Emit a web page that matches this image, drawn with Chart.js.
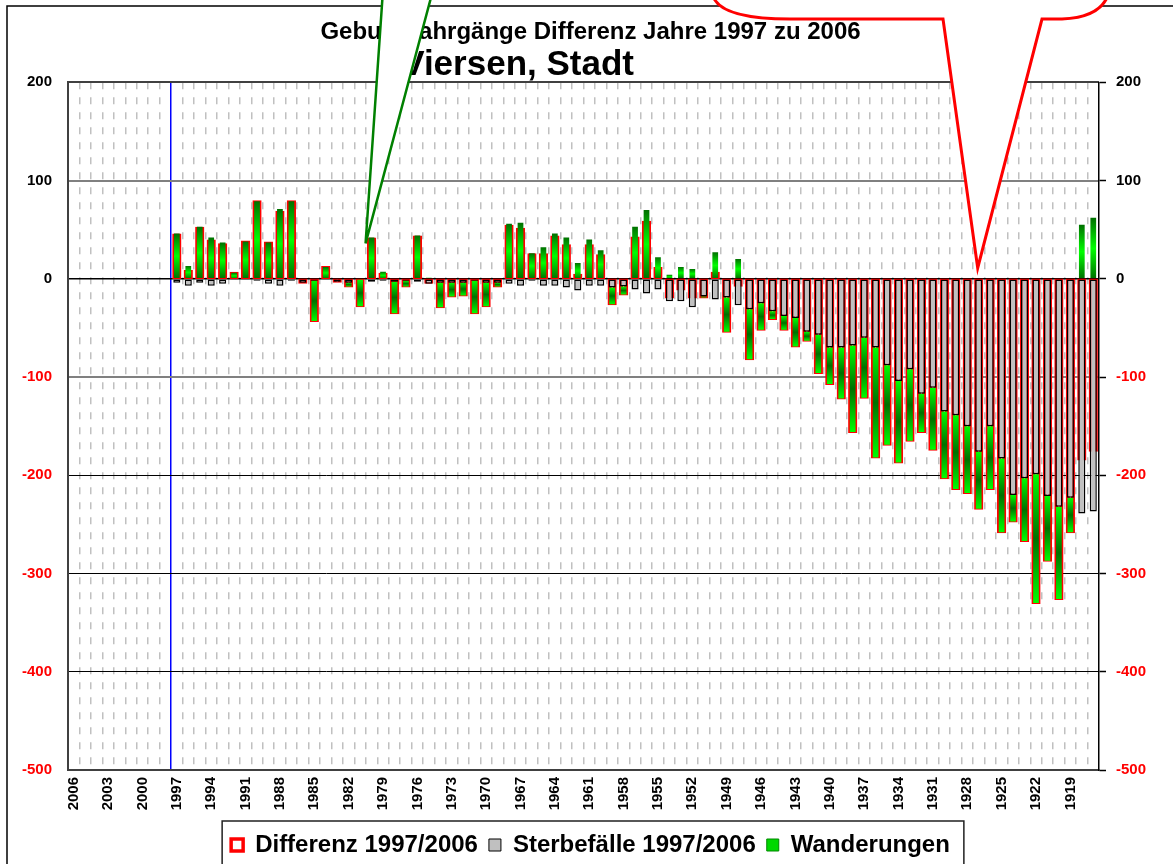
<!DOCTYPE html>
<html>
<head>
<meta charset="utf-8">
<title>Geburtsjahrgänge Differenz Jahre 1997 zu 2006 - Viersen, Stadt</title>
<script src="https://cdn.jsdelivr.net/npm/chart.js@4.4.1/dist/chart.umd.min.js"></script>
<style>
  html, body { margin: 0; padding: 0; background: #ffffff; }
  #wrap { width: 1173px; height: 864px; }
</style>
</head>
<body>
<div id="wrap"><canvas id="chart" width="1173" height="864"></canvas></div>
<script>
//===========================================================================================
// ~~ DATA ~~

var titleLines = ['Geburtsjahrgänge Differenz Jahre 1997 zu 2006', 'Viersen, Stadt'];
var seriesLabels = ['Differenz 1997/2006', 'Sterbefälle 1997/2006', 'Wanderungen'];

var years = ['2006','2005','2004','2003','2002','2001','2000','1999','1998','1997',
  '1996','1995','1994','1993','1992','1991','1990','1989','1988','1987',
  '1986','1985','1984','1983','1982','1981','1980','1979','1978','1977',
  '1976','1975','1974','1973','1972','1971','1970','1969','1968','1967',
  '1966','1965','1964','1963','1962','1961','1960','1959','1958','1957',
  '1956','1955','1954','1953','1952','1951','1950','1949','1948','1947',
  '1946','1945','1944','1943','1942','1941','1940','1939','1938','1937',
  '1936','1935','1934','1933','1932','1931','1930','1929','1928','1927',
  '1926','1925','1924','1923','1922','1921','1920','1919','1918','1917'];

var differenz = [null,null,null,null,null,null,null,null,null,45,
  8,52,39,35,6,38,79,37,68,79,
  -4,-43,12,-3,-8,-28,41,5,-35,-8,
  43,-4,-29,-18,-17,-35,-28,-8,54,51,
  25,25,43,34,4,34,24,-26,-16,42,
  58,11,-19,-11,-19,-19,6,-54,-7,-82,
  -52,-41,-52,-69,-63,-96,-107,-122,-156,-121,
  -182,-169,-187,-165,-156,-174,-203,-214,-218,-234,
  -214,-258,-247,-267,-330,-287,-326,-258,-184,-175];

var sterbefaelle = [null,null,null,null,null,null,null,null,null,-4,
  -7,-4,-7,-5,-1,-1,-2,-5,-7,-2,
  -4,-2,-1,-3,-4,-1,-3,-2,-3,-2,
  -3,-5,-4,-4,-4,-2,-4,-4,-5,-7,
  -2,-7,-7,-9,-12,-7,-7,-9,-8,-11,
  -15,-11,-23,-23,-29,-18,-21,-19,-27,-31,
  -25,-33,-38,-40,-54,-57,-70,-70,-68,-60,
  -70,-88,-104,-92,-117,-111,-135,-139,-150,-176,
  -150,-183,-220,-203,-199,-221,-232,-223,-239,-237];

var wanderungen = [null,null,null,null,null,null,null,null,null,46,
  13,53,42,37,6,38,79,37,71,79,
  0,-41,12,0,-4,-27,42,7,-32,-6,
  44,1,-25,-14,-13,-33,-24,-4,56,57,
  26,32,46,42,16,40,29,-17,-8,53,
  70,22,4,12,10,-1,27,-35,20,-51,
  -27,-8,-14,-29,-9,-39,-37,-52,-88,-61,
  -112,-81,-83,-73,-39,-63,-68,-75,-68,-58,
  -64,-75,-27,-64,-131,-66,-94,-35,55,62];

var yTicks = [200, 100, 0, -100, -200, -300, -400, -500];


//===========================================================================================
// ~~ STYLE HELPERS ~~

var FONT = "'Liberation Sans', Arial, sans-serif";

// green bars : dark/light/dark for gains, light/dark/light for losses (like the excel fill)
function wanderFill(ctx) {
  var chart = ctx.chart;
  var i = ctx.dataIndex;
  var v = (i === undefined) ? null : wanderungen[i];
  if (ctx.type !== 'data' || v === null || v === undefined || !chart.chartArea) {
    return '#00d000';
  }
  var y = chart.scales.y;
  var base = v < 0 ? (sterbefaelle[i] || 0) : 0;
  var y0 = y.getPixelForValue(base);
  var y1 = y.getPixelForValue(base + v);
  if (Math.abs(y1 - y0) < 1) return '#00d000';
  var g = chart.ctx.createLinearGradient(0, y0, 0, y1);
  var dark = '#007000', light = '#00ff00';
  if (v >= 0) {
    g.addColorStop(0, dark); g.addColorStop(0.5, light); g.addColorStop(1, dark);
  } else {
    g.addColorStop(0, light); g.addColorStop(0.5, dark); g.addColorStop(1, light);
  }
  return g;
}

function yGridColor(ctx) {
  var v = ctx.tick ? ctx.tick.value : null;
  if (v === 200 || v === -500) return '#404040';
  if (v === 100 || v === -100) return '#808080';
  return '#000000';
}
function yGridWidth(ctx) {
  var v = ctx.tick ? ctx.tick.value : null;
  if (v === 200 || v === -500 || v === 100 || v === -100) return 2;
  if (v === 0) return 1.5;
  return 1;
}
function xGridColor(ctx) {
  if (ctx.index === undefined || ctx.index === 0 || ctx.index >= years.length) return 'rgba(0,0,0,0)';
  if (years[ctx.index] === '1997') return '#0000ff';
  return '#c0c0c0';
}
function xGridWidth(ctx) {
  return 1.5;
}
function xGridDash(ctx) {
  if (ctx.index === undefined || years[ctx.index] === '1997') return [];
  return [7, 8];
}
function tickColor(ctx) {
  return (ctx.tick && ctx.tick.value < 0) ? '#ff0000' : '#000000';
}
function useTickList(scale) {
  scale.ticks = yTicks.slice().sort(function(a, b) { return a - b; }).map(function(v) { return { value: v }; });
}

// legend markers like in the excel legend
var legendLook = [
  { fill: '#ffffff', stroke: '#ff0000', width: 3.5 },
  { fill: '#c0c0c0', stroke: '#000000', width: 1 },
  { fill: '#00d800', stroke: '#008800', width: 1 }
];


//===========================================================================================
// ~~ FRAME, LEGEND BOX AND CALLOUTS ~~

var decorPlugin = {
  id: 'decor',
  beforeDraw: function(chart) {
    var c = chart.ctx;
    c.save();
    c.strokeStyle = '#000000';
    c.lineWidth = 1.5;
    c.strokeRect(7, 6, 1400, 1000);
    c.restore();
  },
  afterDraw: function(chart) {
    var c = chart.ctx;
    var xs = chart.scales.x, ys = chart.scales.y;

    // box round the legend
    var lg = chart.legend;
    var hb = lg.legendHitBoxes;
    if (hb && hb.length) {
      var left = hb[0].left - 9;
      var right = hb[hb.length - 1].left + hb[hb.length - 1].width + 14;
      c.save();
      c.strokeStyle = '#202020';
      c.lineWidth = 1.5;
      c.strokeRect(left, lg.top - 1, right - left, 100);
      c.restore();
    }

    // green callout (body is outside the picture)
    var gx = xs.getPixelForValue(years.indexOf('1980')) - 6;
    var gy = ys.getPixelForValue(36);
    c.save();
    c.beginPath();
    c.moveTo(383, -10);
    c.lineTo(gx, gy);
    c.lineTo(433, -10);
    c.closePath();
    c.fillStyle = '#ffffff';
    c.fill();
    c.beginPath();
    c.moveTo(383, -10);
    c.lineTo(gx, gy);
    c.lineTo(433, -10);
    c.strokeStyle = '#008000';
    c.lineWidth = 2.5;
    c.stroke();

    // red callout
    var rx = xs.getPixelForValue(years.indexOf('1927')) - 1;
    var ry = ys.getPixelForValue(11);
    c.beginPath();
    c.moveTo(943, 19);
    c.lineTo(rx, ry);
    c.lineTo(1042, 19);
    c.lineTo(1062, 19);
    c.quadraticCurveTo(1108, 17, 1110, -15);
    c.lineTo(1110, -80);
    c.lineTo(712, -80);
    c.lineTo(712, -10);
    c.quadraticCurveTo(712, 19, 790, 19);
    c.closePath();
    c.fillStyle = '#ffffff';
    c.fill();
    c.strokeStyle = '#ff0000';
    c.lineWidth = 3;
    c.stroke();
    c.restore();
  }
};


//===========================================================================================
// ~~ CHART ~~

Chart.defaults.font.family = FONT;
Chart.defaults.font.weight = 'bold';
Chart.defaults.color = '#000000';

new Chart(document.getElementById('chart'), {
  type: 'bar',
  data: {
    labels: years,
    datasets: [{
      label: seriesLabels[0],
      data: differenz,
      stack: 'diff',
      order: 2,
      grouped: false,
      backgroundColor: 'rgba(255,255,255,0)',
      borderColor: '#ff0000',
      borderWidth: 2,
      borderSkipped: false,
      inflateAmount: 1,
      categoryPercentage: 1,
      barPercentage: 0.63
    }, {
      label: seriesLabels[1],
      data: sterbefaelle,
      stack: 'komp',
      order: 0,
      grouped: false,
      backgroundColor: '#c0c0c0',
      borderColor: '#000000',
      borderWidth: 1.5,
      borderSkipped: false,
      categoryPercentage: 1,
      barPercentage: 0.62
    }, {
      label: seriesLabels[2],
      data: wanderungen,
      stack: 'komp',
      order: 1,
      grouped: false,
      backgroundColor: wanderFill,
      borderWidth: 0,
      categoryPercentage: 1,
      barPercentage: 0.5
    }]
  },
  options: {
    responsive: false,
    devicePixelRatio: 1,
    animation: false,
    events: [],
    layout: { padding: { left: 10, right: 2, top: 0, bottom: -3 } },
    scales: {
      x: {
        offset: true,
        grid: { offset: true, drawTicks: false, color: xGridColor, lineWidth: xGridWidth },
        border: { color: '#404040', width: 2, dash: xGridDash },
        ticks: {
          autoSkip: false, maxRotation: 90, minRotation: 90, padding: 7,
          font: { size: 15, weight: 'bold' }, color: '#000000',
          callback: function(value, index) { return index % 3 === 0 ? years[index] : ''; }
        },
        afterFit: function(scale) { scale.height = 52; }
      },
      y: {
        position: 'left',
        stacked: true,
        min: -500, max: 200,
        afterBuildTicks: useTickList,
        grid: { drawTicks: false, color: yGridColor, lineWidth: yGridWidth },
        border: { color: '#404040', width: 2 },
        ticks: { padding: 16, font: { size: 15, weight: 'bold' }, color: tickColor },
        afterFit: function(scale) { scale.width = 58; }
      },
      y2: {
        position: 'right',
        min: -500, max: 200,
        afterBuildTicks: useTickList,
        grid: { drawOnChartArea: false, drawTicks: true, tickLength: 7, tickColor: '#000000', tickWidth: 1.5 },
        border: { color: '#000000', width: 1.5 },
        ticks: { padding: 10, font: { size: 15, weight: 'bold' }, color: tickColor },
        afterFit: function(scale) { scale.width = 72; }
      }
    },
    plugins: {
      title: {
        display: true,
        text: titleLines[0],
        color: '#000000',
        font: { size: 24, weight: 'bold', lineHeight: 1 },
        padding: { top: 20, bottom: 0 }
      },
      subtitle: {
        display: true,
        text: titleLines[1] + '               ',
        color: '#000000',
        font: { size: 35, weight: 'bold', lineHeight: 0.95 },
        padding: { top: 5, bottom: 0 }
      },
      legend: {
        position: 'bottom',
        labels: {
          boxWidth: 12,
          boxHeight: 12,
          padding: 11,
          color: '#000000',
          font: { size: 24, weight: 'bold' },
          sort: function(a, b) { return a.datasetIndex - b.datasetIndex; },
          generateLabels: function(chart) {
            var items = Chart.defaults.plugins.legend.labels.generateLabels(chart);
            items.forEach(function(it) {
              var look = legendLook[it.datasetIndex];
              it.fillStyle = look.fill;
              it.strokeStyle = look.stroke;
              it.lineWidth = look.width;
            });
            return items;
          }
        }
      },
      tooltip: { enabled: false }
    }
  },
  plugins: [decorPlugin]
});
</script>
</body>
</html>
